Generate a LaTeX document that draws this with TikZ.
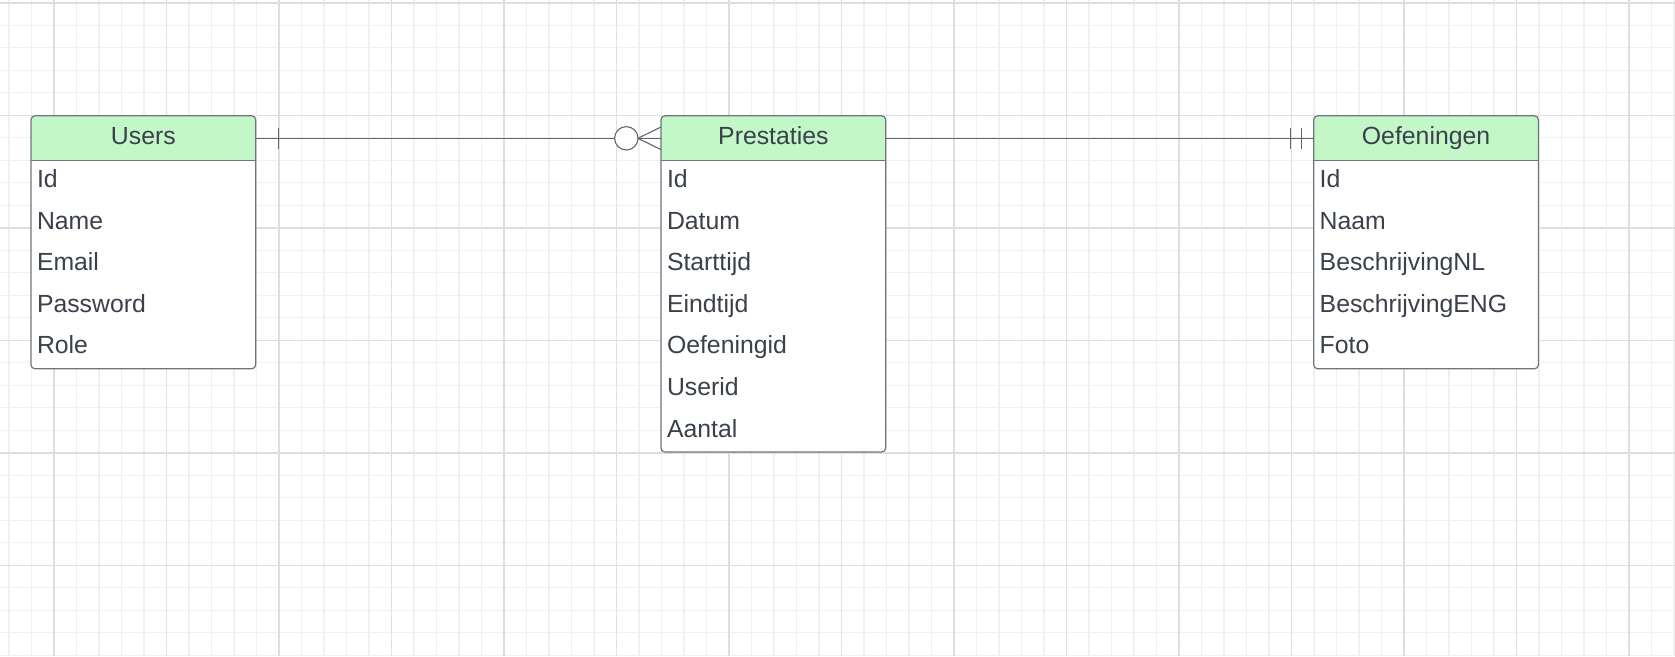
\documentclass[tikz,border=0pt]{standalone}
\usepackage{fontspec}
\setmainfont{Liberation Sans}
\usetikzlibrary{calc}
\definecolor{hdrgreen}{HTML}{C3F7C8}
\definecolor{bordergray}{HTML}{6F757E}
\definecolor{txt}{HTML}{3A414A}
\definecolor{conngray}{HTML}{5F6670}
\definecolor{gminor}{HTML}{F0F0F0}
\definecolor{gmid}{HTML}{E0E0E0}
\definecolor{gmajor}{HTML}{DEDEDE}
\begin{document}
\begin{tikzpicture}[x=1pt,y=-1pt,
  bodybox/.style={fill=white, draw=none, rounded corners=4pt, minimum width=224.7pt, inner sep=0pt, outer sep=0pt, anchor=north west},
  hdrbox/.style={fill=hdrgreen, draw=none, rounded corners=4pt, minimum width=224.7pt, minimum height=45pt, inner sep=0pt, outer sep=0pt, text=txt, font=\fontsize{24.8}{28}\selectfont, text height=17.5pt, text depth=5.9pt, anchor=north},
  field/.style={anchor=west, inner sep=0pt, outer sep=0pt, text=txt, font=\fontsize{24.8}{28}\selectfont, text height=17.5pt, text depth=5.9pt},
  outline/.style={draw=bordergray, line width=1.2pt, rounded corners=4pt},
  divider/.style={draw=bordergray, line width=1.2pt},
  conn/.style={draw=conngray, line width=1.1pt},
  gridminor/.style={draw=gminor, line width=1.1pt},
  gridmid/.style={draw=gmid, line width=0.7pt},
  gridmajor/.style={draw=gmajor, line width=1.6pt},
]
\useasboundingbox (0,0) rectangle (1675,656);
\fill[white] (0,0) rectangle (1675,656);
% grid
\foreach \k in {0,...,74} { \draw[gridminor] ({9+22.5*\k},0) -- ({9+22.5*\k},656); }
\foreach \k in {0,...,29} { \draw[gridminor] (0,{2.7+22.5*\k}) -- (1675,{2.7+22.5*\k}); }
\foreach \k in {0,...,14} { \draw[gridmid] ({54+112.5*\k},0) -- ({54+112.5*\k},656); }
\foreach \k in {0,...,5} { \draw[gridmid] (0,{2.7+112.5*\k}) -- (1675,{2.7+112.5*\k}); }
\foreach \k in {0,...,7} { \draw[gridmajor] ({54+225*\k},0) -- ({54+225*\k},656); }
\foreach \k in {0,...,2} { \draw[gridmajor] (0,{2.7+225*\k}) -- (1675,{2.7+225*\k}); }

% Users
\node[bodybox, minimum height=253pt] (users) at (31,115.8) {};
\node[hdrbox] (usersH) at (users.north) {Users};
\fill[hdrgreen] ([yshift=10pt]usersH.south west) rectangle (usersH.south east);
\draw[divider] (usersH.south west) -- (usersH.south east);
\draw[outline] (users.north west) rectangle (users.south east);
\foreach \t [count=\i] in {Id,Name,Email,Password,Role}
  \node[field] (users\i) at ($(usersH.south west)+(6,{41.6*\i-20.8})$) {\t};

% Prestaties
\node[bodybox, minimum height=336.2pt] (prest) at (661,115.8) {};
\node[hdrbox] (prestH) at (prest.north) {Prestaties};
\fill[hdrgreen] ([yshift=10pt]prestH.south west) rectangle (prestH.south east);
\draw[divider] (prestH.south west) -- (prestH.south east);
\draw[outline] (prest.north west) rectangle (prest.south east);
\foreach \t [count=\i] in {Id,Datum,Starttijd,Eindtijd,Oefeningid,Userid,Aantal}
  \node[field] (prest\i) at ($(prestH.south west)+(6,{41.6*\i-20.8})$) {\t};

% Oefeningen
\node[bodybox, minimum height=253pt] (oef) at (1313.7,115.8) {};
\node[hdrbox] (oefH) at (oef.north) {Oefeningen};
\fill[hdrgreen] ([yshift=10pt]oefH.south west) rectangle (oefH.south east);
\draw[divider] (oefH.south west) -- (oefH.south east);
\draw[outline] (oef.north west) rectangle (oef.south east);
\foreach \t [count=\i] in {Id,Naam,BeschrijvingNL,BeschrijvingENG,Foto}
  \node[field] (oef\i) at ($(oefH.south west)+(6,{41.6*\i-20.8})$) {\t};

% Users -- Prestaties (one to zero-or-many)
\draw[conn] (usersH.east) -- (prestH.west);
\draw[conn] ($(usersH.east)+(22.7,-10.8)$) -- ($(usersH.east)+(22.7,10.8)$);
\coordinate (c1) at ($(prestH.west)+(-34.7,0)$);
\draw[conn, fill=white] (c1) circle[radius=11.7];
\draw[conn] ($(c1)+(11.7,0)$) -- ($(prestH.west)+(0,-11.3)$);
\draw[conn] ($(c1)+(11.7,0)$) -- ($(prestH.west)+(0,11.3)$);

% Prestaties -- Oefeningen (one and only one)
\draw[conn] (prestH.east) -- (oefH.west);
\draw[conn] ($(oefH.west)+(-23.4,-10.5)$) -- ($(oefH.west)+(-23.4,10.5)$);
\draw[conn] ($(oefH.west)+(-12,-10.5)$) -- ($(oefH.west)+(-12,10.5)$);
\end{tikzpicture}
\end{document}
